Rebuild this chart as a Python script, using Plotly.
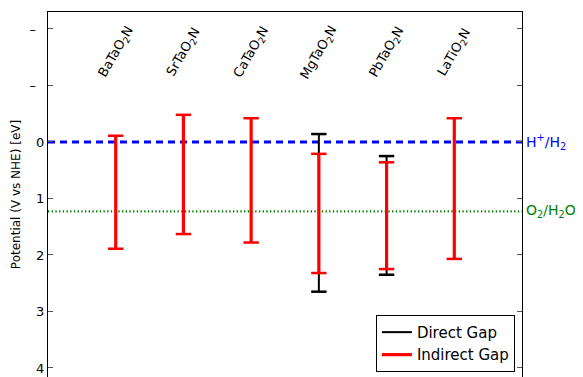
import plotly.graph_objects as go

materials = ["BaTaO<sub>2</sub>N", "SrTaO<sub>2</sub>N", "CaTaO<sub>2</sub>N",
             "MgTaO<sub>2</sub>N", "PbTaO<sub>2</sub>N", "LaTiO<sub>2</sub>N"]
positions = [1, 2, 3, 4, 5, 6]

# Direct gap (band edges, V vs NHE), only where distinct
direct_x = [4, 5]
direct_top = [-0.14, 0.25]
direct_bottom = [2.65, 2.35]

# Indirect gap band edges
indirect_x = [1, 2, 3, 4, 5, 6]
indirect_top = [-0.11, -0.48, -0.42, 0.21, 0.36, -0.42]
indirect_bottom = [1.89, 1.63, 1.78, 2.32, 2.25, 2.07]

h_level = 0.0
o_level = 1.23

ytickvals = [-2, -1, 0, 1, 2, 3, 4]
yticktext = ["–\u2007", "–\u2007", "0", "1", "2", "3", "4"]

fig = go.Figure()

def seg(xs, tops, bots):
    X, Y = [], []
    for x, t, b in zip(xs, tops, bots):
        X += [x, x, None]
        Y += [t, b, None]
    return X, Y

# reference lines
fig.add_trace(go.Scatter(x=[0, 7], y=[h_level, h_level], mode="lines",
                         line=dict(color="#0000ff", width=3, dash="7px,5px"),
                         showlegend=False, hoverinfo="skip"))
fig.add_trace(go.Scatter(x=[0, 7], y=[o_level, o_level], mode="lines",
                         line=dict(color="#008000", width=2.2, dash="1.3px,2.4px"),
                         showlegend=False, hoverinfo="skip"))

for xs, tops, bots, color, w, name in [
        (direct_x, direct_top, direct_bottom, "black", 2, "Direct Gap"),
        (indirect_x, indirect_top, indirect_bottom, "#ff0000", 3.2, "Indirect Gap")]:
    X, Y = seg(xs, tops, bots)
    fig.add_trace(go.Scatter(x=X, y=Y, mode="lines", name=name,
                             line=dict(color=color, width=w)))
    fig.add_trace(go.Scatter(x=xs + xs, y=tops + bots, mode="markers",
                             marker=dict(symbol="line-ew", size=11,
                                         line=dict(color=color, width=2.5)),
                             showlegend=False, hoverinfo="skip"))

for x, m in zip(positions, materials):
    fig.add_annotation(x=x, y=-1.59, text=m, showarrow=False, textangle=-60,
                       font=dict(size=13, color="black"))

fig.add_annotation(x=1.004, xref="paper", y=h_level, yref="y",
                   text="H<sup>+</sup>/H<sub>2</sub>", showarrow=False,
                   xanchor="left", font=dict(size=14, color="#0000ff"))
fig.add_annotation(x=1.004, xref="paper", y=o_level, yref="y",
                   text="O<sub>2</sub>/H<sub>2</sub>O", showarrow=False,
                   xanchor="left", font=dict(size=14, color="#008000"))

fig.update_layout(
    width=575, height=369,
    margin=dict(l=40, r=61, t=4, b=0, autoexpand=False),
    paper_bgcolor="white", plot_bgcolor="white",
    font=dict(family="DejaVu Sans", color="black"),
    xaxis=dict(range=[0, 7], side="top", showline=True, linecolor="black",
               linewidth=1, showticklabels=False, ticks="", showgrid=False,
               zeroline=False, automargin=False),
    yaxis=dict(range=[4.16, -2.3], tickvals=ytickvals, ticktext=yticktext,
               showline=True, mirror="ticks", linecolor="black", linewidth=1,
               ticks="inside", ticklen=5, tickcolor="#555555",
               showgrid=False, zeroline=False, tickfont=dict(size=13),
               automargin=False,
               title=dict(text="Potential (V vs NHE) [eV]", font=dict(size=12),
                          standoff=6)),
    legend=dict(x=0.985, y=0.014, xanchor="right", yanchor="bottom",
                bordercolor="black", borderwidth=1, bgcolor="white",
                font=dict(size=15), tracegroupgap=0),
)

fig.write_html("out.html")
